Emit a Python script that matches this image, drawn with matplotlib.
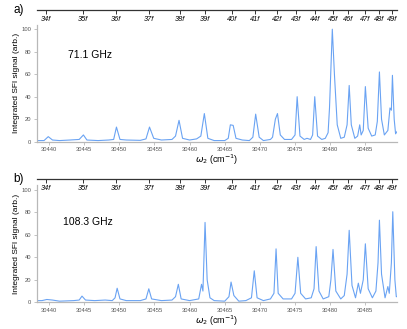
import numpy as np
import matplotlib.pyplot as plt

plt.rcParams['font.family'] = ['Liberation Sans', 'DejaVu Sans']

# Rydberg nf assignments (top axis), cm^-1
n_labels = ['34f', '35f', '36f', '37f', '38f', '39f', '40f', '41f', '42f',
            '43f', '44f', '45f', '46f', '47f', '48f', '49f']
n_pos = [30439.6, 30444.9, 30449.5, 30454.2, 30458.6, 30462.2, 30466.0, 30469.3,
         30472.4, 30475.2, 30477.8, 30480.4, 30482.6, 30484.9, 30486.9, 30488.8]

# spectrum a) 71.1 GHz
wa = [30438.3, 30439.3, 30439.9, 30440.5, 30441.5, 30443.0, 30444.3, 30444.9, 30445.4,
      30447.0, 30448.5, 30449.2, 30449.6, 30450.1, 30451.0, 30453.0, 30453.8, 30454.3,
      30454.9, 30456.0, 30457.5, 30458.0, 30458.5, 30459.0, 30460.0, 30461.0, 30461.6,
      30462.1, 30462.6, 30463.5, 30465.0, 30465.5, 30465.8, 30466.2, 30466.6, 30467.5,
      30468.5, 30469.0, 30469.4, 30469.9, 30470.5, 30471.5, 30471.8, 30472.2, 30472.5,
      30472.9, 30473.5, 30474.5, 30475.0, 30475.3, 30475.7, 30476.3, 30476.7, 30477.2,
      30477.5, 30477.8, 30478.2, 30478.8, 30479.3, 30479.7, 30479.9, 30480.3, 30480.6,
      30481.0, 30481.5, 30482.0, 30482.4, 30482.7, 30483.0, 30483.5, 30483.9, 30484.2,
      30484.4, 30484.7, 30485.0, 30485.4, 30485.9, 30486.4, 30486.7, 30487.0, 30487.3,
      30487.7, 30488.2, 30488.5, 30488.7, 30488.85, 30489.1, 30489.3, 30489.5]
sa = [1, 1, 4.5, 1.5, 1, 1.5, 2, 6, 1.5,
      1, 1.5, 2, 13, 2, 1.5, 1.2, 2.5, 13,
      3, 1.5, 2, 5, 19, 3, 1.5, 2.5, 5,
      25, 3, 1, 1, 3, 15, 14.5, 3, 1.5,
      1, 4, 24.5, 4, 1, 2, 4, 20, 25,
      6, 2, 2, 6, 40, 5, 2, 3, 2,
      6, 40, 5, 2, 3, 8, 30, 100, 60,
      15, 3, 4, 15, 50, 15, 3, 5, 15,
      6, 10, 49, 12, 5, 6, 18, 62, 20,
      6, 10, 30, 28, 59, 20, 7, 9]

# spectrum b) 108.3 GHz
wb = [30438.3, 30439.0, 30439.7, 30440.5, 30441.5, 30443.5, 30444.3, 30444.7, 30445.2,
      30446.5, 30448.0, 30449.0, 30449.4, 30449.7, 30450.1, 30451.0, 30453.0, 30453.8,
      30454.2, 30454.6, 30456.0, 30457.5, 30458.0, 30458.4, 30458.8, 30460.0, 30461.3,
      30461.7, 30461.9, 30462.2, 30462.5, 30462.9, 30463.5, 30465.0, 30465.6, 30465.9,
      30466.3, 30467.0, 30468.0, 30468.8, 30469.2, 30469.6, 30470.5, 30471.5, 30472.0,
      30472.3, 30472.6, 30473.3, 30474.5, 30475.0, 30475.4, 30475.8, 30476.5, 30477.3,
      30477.7, 30478.0, 30478.4, 30479.0, 30479.8, 30480.1, 30480.4, 30480.8, 30481.5,
      30482.0, 30482.4, 30482.7, 30483.1, 30483.6, 30484.0, 30484.3, 30484.7, 30485.0,
      30485.4, 30486.0, 30486.5, 30486.8, 30487.0, 30487.3, 30487.8, 30488.2, 30488.4,
      30488.7, 30488.9, 30489.2, 30489.4, 30489.5]
sb = [1.5, 1.5, 2.5, 2, 1, 1.5, 2, 5.5, 2,
      1.5, 2, 1.5, 4, 12.5, 3, 1.5, 1.5, 3,
      12, 3, 1.5, 2, 5, 16, 3, 1.5, 3,
      16, 10, 71, 20, 4, 1.5, 1, 5, 18,
      6, 1, 1.5, 4, 28, 4, 1.5, 3, 8,
      47.5, 8, 3, 3, 8, 40, 8, 3, 4,
      12, 49.5, 10, 3, 5, 20, 47, 10, 3,
      6, 25, 64, 15, 4, 17, 8, 20, 52,
      12, 4, 10, 35, 73, 25, 4, 14, 8,
      35, 80.5, 20, 5, 5]

W, H = 407, 329
fig = plt.figure(figsize=(W / 100, H / 100), dpi=100)
left, right = 37 / W, 397 / W
xlim = (30438.3, 30489.5)
grey = '#b8b8b8'

panels = [(wa, sa, '71.1 GHz', 'a)', 141.7, 10, (68, 55)),
          (wb, sb, '108.3 GHz', 'b)', 302.3, 179, (63, 222))]

for w, s, freq, tag, y0, ytop, txt in panels:
    ax = fig.add_axes([left, 1 - y0 / H, right - left, 117 / H])
    ax.plot(w, s, color='#6aa3f3', lw=0.8)
    ax.set_xlim(xlim)
    ax.set_ylim(0, 104)
    ax.set_yticks(np.arange(0, 101, 20))
    ax.set_xticks(np.arange(30440, 30490, 5))
    ax.set_xticklabels([str(v) for v in range(30440, 30490, 5)])
    for sp in ['top', 'right']:
        ax.spines[sp].set_visible(False)
    for sp in ['left', 'bottom']:
        ax.spines[sp].set_color(grey)
        ax.spines[sp].set_linewidth(0.9)
    ax.tick_params(colors=grey, labelcolor='#555555', labelsize=4.2, length=2.5, width=0.6, pad=1.5)
    ax.set_ylabel('Integrated SFI signal (arb.)', fontsize=6, labelpad=1)
    ax.set_xlabel(r'$\omega_2$ (cm$^{-1}$)', fontsize=6.5, labelpad=0.5)
    ax.text(txt[0] / W, 1 - txt[1] / H, freq, transform=fig.transFigure,
            fontsize=7.5, va='center', ha='left')
    fig.text(13 / W, 1 - ytop / H, tag, fontsize=8.5, va='center', ha='left')

    # top axis with nf assignments
    axt = fig.add_axes([left, 1 - ytop / H, right - left, 0.001])
    axt.set_xlim(xlim)
    axt.set_yticks([])
    axt.patch.set_visible(False)
    for sp in ['top', 'right', 'left']:
        axt.spines[sp].set_visible(False)
    axt.spines['bottom'].set_color('#333333')
    axt.spines['bottom'].set_linewidth(0.9)
    axt.set_xticks(n_pos)
    axt.set_xticklabels(n_labels, fontsize=5.3, style='italic')
    axt.tick_params(axis='x', length=3, width=0.7, color='#333333', pad=1.5)

fig.savefig('out.png', dpi=100)
